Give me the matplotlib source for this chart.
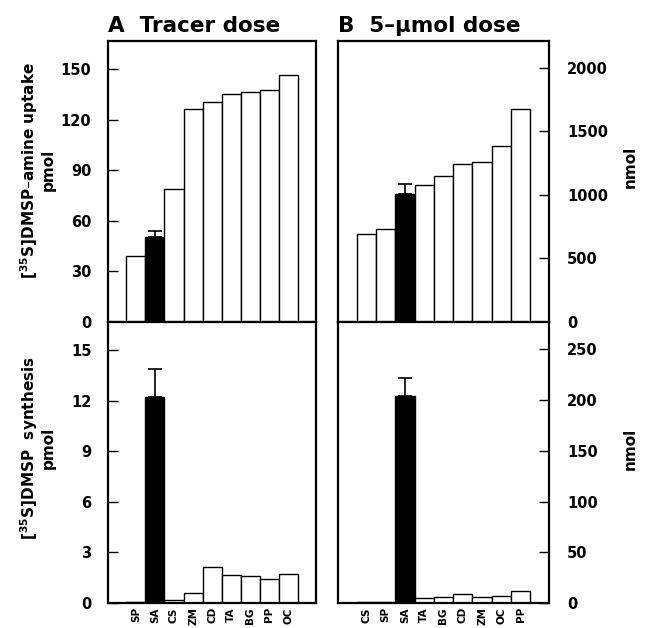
"""
Uptake of [35S]DMSP-amine and synthesis of [35S]DMSP, tracer vs 5-umol dose
"""
import matplotlib
matplotlib.use("Agg")
import matplotlib.pyplot as plt

plt.rcParams['font.family'] = ['DejaVu Sans']
plt.rcParams['font.weight'] = 'bold'

# A: tracer dose (pmol)
cats_a = ['SP', 'SA', 'CS', 'ZM', 'CD', 'TA', 'BG', 'PP', 'OC']
uptake_a = [39.0, 50.5, 79.0, 126.3, 130.2, 135.2, 136.3, 137.5, 146.4]
synth_a = [0.08, 12.2, 0.18, 0.59, 2.11, 1.66, 1.58, 1.40, 1.74]
uptake_a_err = 3.7
synth_a_err = 1.7

# B: 5-umol dose (nmol)
cats_b = ['CS', 'SP', 'SA', 'TA', 'BG', 'CD', 'ZM', 'OC', 'PP']
uptake_b = [690, 730, 1007, 1080, 1152, 1241, 1262, 1383, 1681]
synth_b = [1.3, 1.0, 203.8, 4.6, 5.9, 9.2, 5.9, 6.9, 12.1]
uptake_b_err = 81
synth_b_err = 18

HIGHLIGHT = 'SA'


def draw_bars(ax, cats, vals, err, ymax, ticks, side, show_labels):
    x = list(range(1, len(cats) + 1))
    colors = ['black' if c == HIGHLIGHT else 'white' for c in cats]
    ax.bar(x, vals, width=1.0, color=colors, edgecolor='black', linewidth=1.0, zorder=2)
    i = cats.index(HIGHLIGHT)
    ax.errorbar(x[i], vals[i], yerr=[[0], [err]], fmt='none', ecolor='black',
                elinewidth=1.2, capsize=5, capthick=1.2, zorder=3)
    ax.set_xlim(0.5 - 0.97, len(cats) + 0.5 + 0.97)
    ax.set_ylim(0, ymax)
    ax.set_yticks(ticks)
    ax.set_xticks(x)
    if show_labels:
        ax.set_xticklabels(cats, rotation=90, fontsize=7.5, fontweight='bold')
    else:
        ax.set_xticklabels([])
    ax.tick_params(axis='x', length=0, pad=3)
    if side == 'left':
        ax.tick_params(axis='y', direction='in', length=7, width=1, labelsize=10.5, pad=12,
                       left=True, right=False, labelleft=True, labelright=False)
    else:
        ax.tick_params(axis='y', direction='in', length=7, width=1, labelsize=10.5, pad=13,
                       left=False, right=True, labelleft=False, labelright=True)
    for s in ax.spines.values():
        s.set_linewidth(1.6)


fig = plt.figure(figsize=(6.48, 6.28), dpi=100)

ax_a_top = fig.add_axes([0.1667, 0.4873, 0.321, 0.4475])
ax_a_bot = fig.add_axes([0.1667, 0.0398, 0.321, 0.4475])
ax_b_top = fig.add_axes([0.5216, 0.4873, 0.3256, 0.4475])
ax_b_bot = fig.add_axes([0.5216, 0.0398, 0.3256, 0.4475])

draw_bars(ax_a_top, cats_a, uptake_a, uptake_a_err, 166.7, [0, 30, 60, 90, 120, 150], 'left', False)
draw_bars(ax_a_bot, cats_a, synth_a, synth_a_err, 16.67, [0, 3, 6, 9, 12, 15], 'left', True)
draw_bars(ax_b_top, cats_b, uptake_b, uptake_b_err, 2213, [0, 500, 1000, 1500, 2000], 'right', False)
draw_bars(ax_b_bot, cats_b, synth_b, synth_b_err, 277, [0, 50, 100, 150, 200, 250], 'right', True)

fig.text(108 / 648, 1 - 32 / 628, 'A  Tracer dose', fontsize=15.5, fontweight='bold',
         ha='left', va='baseline')
fig.text(338 / 648, 1 - 32 / 628, 'B  5\u2013\u03bcmol dose', fontsize=15.5, fontweight='bold',
         ha='left', va='baseline')

fig.text(37 / 648, 1 - 170 / 628, '[$^{\\mathbf{35}}$S]DMSP\u2013amine uptake\npmol',
         rotation=90, ha='center', va='center', fontsize=11, fontweight='bold',
         linespacing=1.1, multialignment='center')
fig.text(37 / 648, 1 - 448 / 628, '[$^{\\mathbf{35}}$S]DMSP  synthesis\npmol',
         rotation=90, ha='center', va='center', fontsize=11, fontweight='bold',
         linespacing=1.1, multialignment='center')
fig.text(630 / 648, 1 - 167 / 628, 'nmol', rotation=90, ha='center', va='center',
         fontsize=11, fontweight='bold')
fig.text(630 / 648, 1 - 449 / 628, 'nmol', rotation=90, ha='center', va='center',
         fontsize=11, fontweight='bold')

fig.savefig('out.png', dpi=100)
